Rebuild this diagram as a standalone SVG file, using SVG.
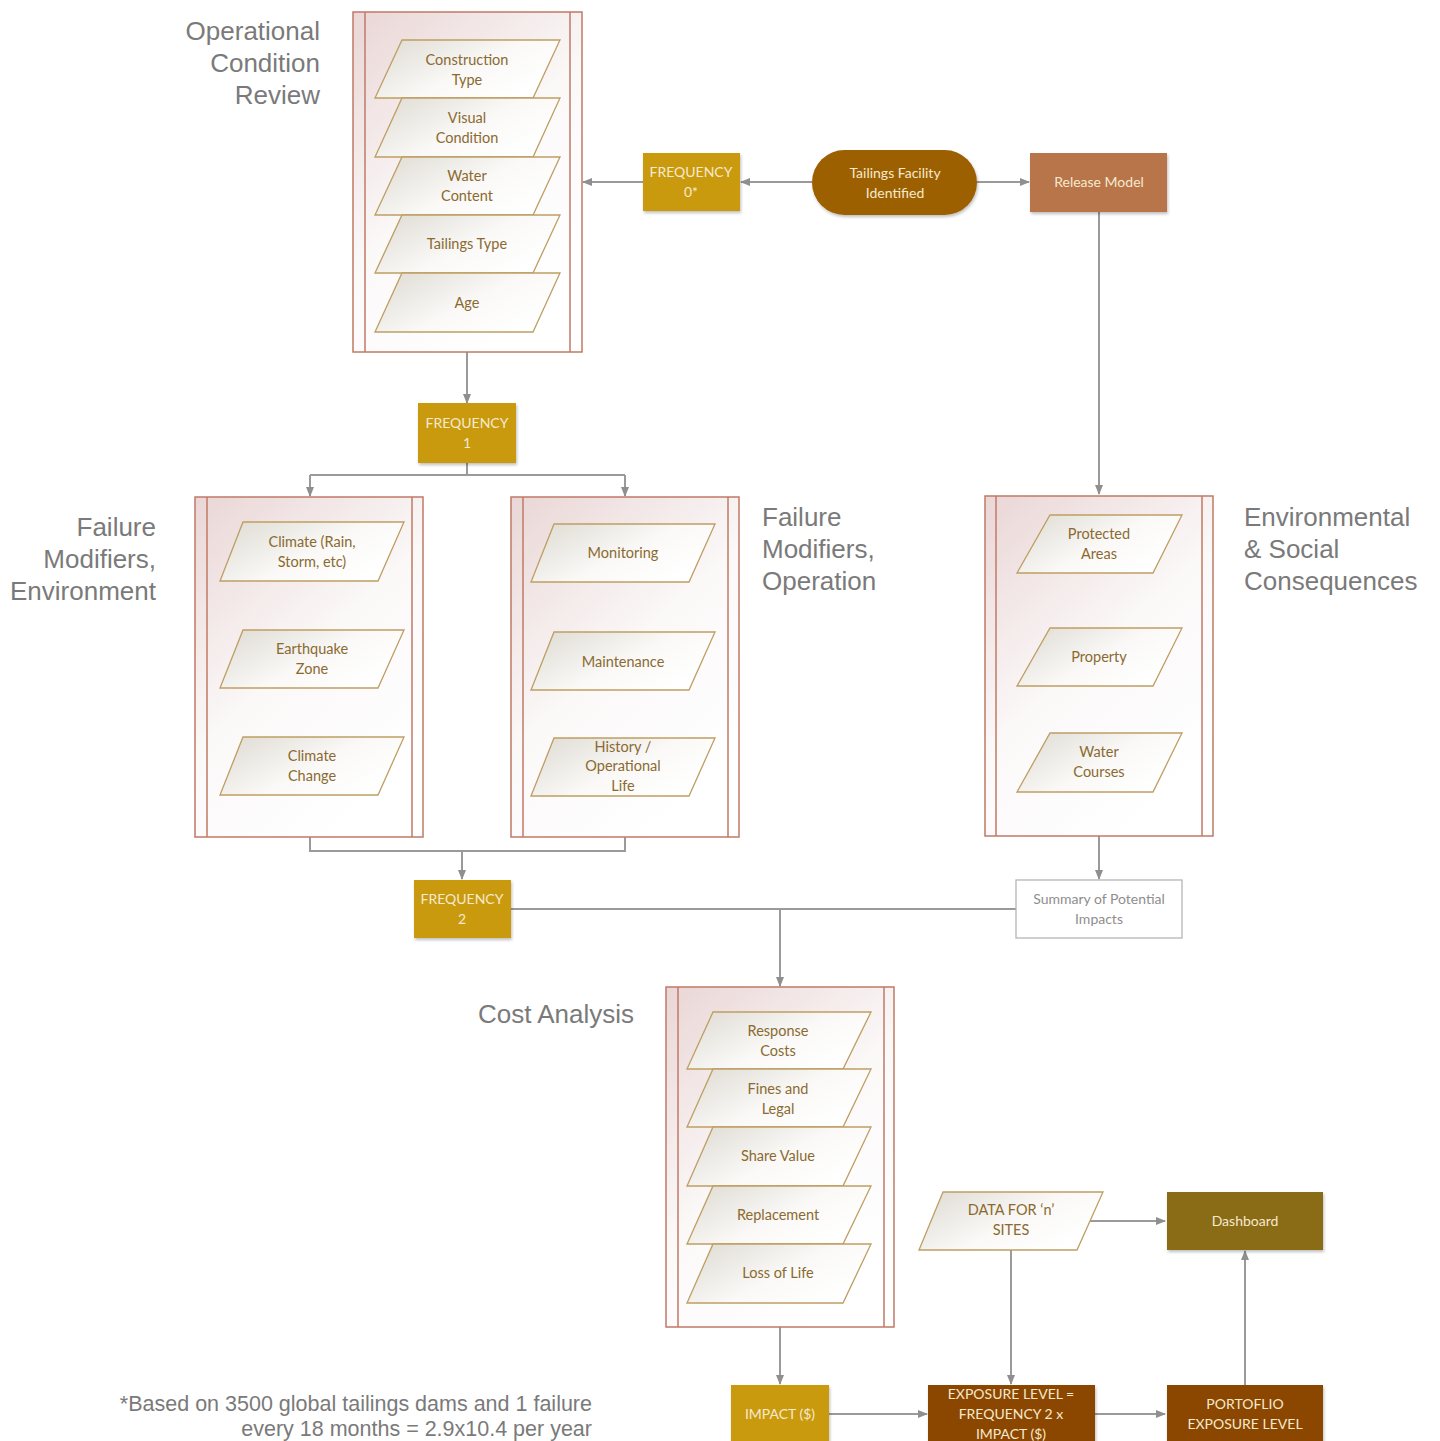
<svg xmlns="http://www.w3.org/2000/svg" width="1440" height="1441" viewBox="0 0 1440 1441">
<defs>
<linearGradient id="gCont" x1="0" y1="0" x2="0.6" y2="1">
<stop offset="0" stop-color="#EAD6D6"/>
<stop offset="0.55" stop-color="#FBF8F8"/>
<stop offset="1" stop-color="#FFFFFF"/>
</linearGradient>
<linearGradient id="gPar" x1="0" y1="0" x2="1" y2="0.6">
<stop offset="0" stop-color="#DEDAD2"/>
<stop offset="0.6" stop-color="#FAF9F7"/>
<stop offset="1" stop-color="#FFFFFF"/>
</linearGradient>
<marker id="arr" markerWidth="10" markerHeight="10" refX="9" refY="5" orient="auto" markerUnits="userSpaceOnUse">
<path d="M0,1 L10,5 L0,9 Z" fill="#8F8F8F"/>
</marker>
<filter id="sh" x="-10%" y="-10%" width="130%" height="140%">
<feDropShadow dx="1" dy="2" stdDeviation="1.5" flood-color="#000" flood-opacity="0.25"/>
</filter>
</defs>
<style>
.cont{fill:url(#gCont);stroke:#C07A66;stroke-width:1.5}
.inner{stroke:#C07A66;stroke-width:1.5}
.par{fill:url(#gPar);stroke:#BE9E62;stroke-width:1.3}
.pt{font-family:Lato,"Open Sans","Liberation Sans",sans-serif;font-size:14.5px;fill:#8A6A30;text-anchor:middle}
.bt{font-family:Lato,"Open Sans","Liberation Sans",sans-serif;font-size:14px;fill:#F6E9CE;text-anchor:middle}
.lab{font-family:"Liberation Sans",Arial,sans-serif;font-size:26px;fill:#7A7A7A}
.note{font-family:"Liberation Sans",Arial,sans-serif;font-size:21.5px;fill:#7A7A7A;text-anchor:end}
.con{fill:none;stroke:#9A9A9A;stroke-width:2}
.arr{marker-end:url(#arr)}
</style>
<rect width="1440" height="1441" fill="#FFFFFF"/>

<g id="labels">
<text class="lab" text-anchor="end" x="320" y="40">Operational</text>
<text class="lab" text-anchor="end" x="320" y="72">Condition</text>
<text class="lab" text-anchor="end" x="320" y="104">Review</text>
<text class="lab" text-anchor="end" x="156" y="536">Failure</text>
<text class="lab" text-anchor="end" x="156" y="568">Modifiers,</text>
<text class="lab" text-anchor="end" x="156" y="600">Environment</text>
<text class="lab" x="762" y="526">Failure</text>
<text class="lab" x="762" y="558">Modifiers,</text>
<text class="lab" x="762" y="590">Operation</text>
<text class="lab" x="1244" y="526">Environmental</text>
<text class="lab" x="1244" y="558">&amp; Social</text>
<text class="lab" x="1244" y="590">Consequences</text>
<text class="lab" x="478" y="1023">Cost Analysis</text>
<text class="note" x="592" y="1411">*Based on 3500 global tailings dams and 1 failure</text>
<text class="note" x="592" y="1436">every 18 months = 2.9x10.4 per year</text>
</g>

<g id="connectors">
<path class="con arr" d="M812,182 L741,182"/>
<path class="con arr" d="M643,182 L583,182"/>
<path class="con arr" d="M977,182 L1029,182"/>
<path class="con arr" d="M1099,212 L1099,494"/>
<path class="con arr" d="M467,352 L467,403"/>
<path class="con" d="M467,463 L467,475 M310,475 L625,475"/>
<path class="con arr" d="M310,475 L310,496"/>
<path class="con arr" d="M625,475 L625,496"/>
<path class="con" d="M310,837 L310,851 L625,851 L625,837"/>
<path class="con arr" d="M462,851 L462,879"/>
<path class="con arr" d="M1099,836 L1099,879"/>
<path class="con" d="M511,909 L1016,909"/>
<path class="con arr" d="M780,909 L780,986"/>
<path class="con arr" d="M780,1327 L780,1384"/>
<path class="con arr" d="M829,1414 L927,1414"/>
<path class="con arr" d="M1095,1414 L1165,1414"/>
<path class="con arr" d="M1245,1385 L1245,1251"/>
<path class="con arr" d="M1090,1221 L1165,1221"/>
<path class="con arr" d="M1011,1250 L1011,1384"/>
</g>

<g id="operational-condition-review">
<rect class="cont" x="353" y="12" width="229" height="340"/>
<line class="inner" x1="365" y1="12" x2="365" y2="352"/>
<line class="inner" x1="570" y1="12" x2="570" y2="352"/>
<g id="construction-type"><polygon class="par" points="402,40 560,40 533,98 375,98"/><text class="pt" x="467" y="65">Construction</text><text class="pt" x="467" y="85">Type</text></g>
<g id="visual-condition"><polygon class="par" points="402,98 560,98 533,157 375,157"/><text class="pt" x="467" y="123">Visual</text><text class="pt" x="467" y="143">Condition</text></g>
<g id="water-content"><polygon class="par" points="402,157 560,157 533,215 375,215"/><text class="pt" x="467" y="181">Water</text><text class="pt" x="467" y="201">Content</text></g>
<g id="tailings-type"><polygon class="par" points="402,215 560,215 533,273 375,273"/><text class="pt" x="467" y="249">Tailings Type</text></g>
<g id="age"><polygon class="par" points="402,273 560,273 533,332 375,332"/><text class="pt" x="467" y="308">Age</text></g>
</g>

<g id="frequency-0"><rect x="643" y="153" width="97" height="58" fill="#C99A0C" filter="url(#sh)"/><text class="bt" x="691" y="177">FREQUENCY</text><text class="bt" x="691" y="197">0*</text></g>
<g id="tailings-facility"><rect x="812" y="150" width="165" height="65" rx="32.5" fill="#9C6006" filter="url(#sh)"/><text class="bt" x="895" y="178">Tailings Facility</text><text class="bt" x="895" y="198">Identified</text></g>
<g id="release-model"><rect x="1030" y="153" width="137" height="59" fill="#B8744A" filter="url(#sh)"/><text class="bt" x="1099" y="187">Release Model</text></g>

<g id="frequency-1"><rect x="418" y="403" width="98" height="60" fill="#C99A0C" filter="url(#sh)"/><text class="bt" x="467" y="428">FREQUENCY</text><text class="bt" x="467" y="448">1</text></g>

<g id="failure-modifiers-environment">
<rect class="cont" x="195" y="497" width="228" height="340"/>
<line class="inner" x1="207" y1="497" x2="207" y2="837"/>
<line class="inner" x1="412" y1="497" x2="412" y2="837"/>
<g id="climate"><polygon class="par" points="243,522 404,522 378,581 220,581"/><text class="pt" x="312" y="547">Climate (Rain,</text><text class="pt" x="312" y="567">Storm, etc)</text></g>
<g id="earthquake"><polygon class="par" points="243,630 404,630 378,688 220,688"/><text class="pt" x="312" y="654">Earthquake</text><text class="pt" x="312" y="674">Zone</text></g>
<g id="climate-change"><polygon class="par" points="243,737 404,737 378,795 220,795"/><text class="pt" x="312" y="761">Climate</text><text class="pt" x="312" y="781">Change</text></g>
</g>

<g id="failure-modifiers-operation">
<rect class="cont" x="511" y="497" width="228" height="340"/>
<line class="inner" x1="523" y1="497" x2="523" y2="837"/>
<line class="inner" x1="728" y1="497" x2="728" y2="837"/>
<g id="monitoring"><polygon class="par" points="554,524 715,524 689,582 531,582"/><text class="pt" x="623" y="558">Monitoring</text></g>
<g id="maintenance"><polygon class="par" points="554,632 715,632 689,690 531,690"/><text class="pt" x="623" y="667">Maintenance</text></g>
<g id="history"><polygon class="par" points="554,738 715,738 689,796 531,796"/><text class="pt" x="623" y="752">History /</text><text class="pt" x="623" y="771">Operational</text><text class="pt" x="623" y="791">Life</text></g>
</g>

<g id="environmental-social">
<rect class="cont" x="985" y="496" width="228" height="340"/>
<line class="inner" x1="996" y1="496" x2="996" y2="836"/>
<line class="inner" x1="1202" y1="496" x2="1202" y2="836"/>
<g id="protected-areas"><polygon class="par" points="1050,515 1182,515 1153,573 1017,573"/><text class="pt" x="1099" y="539">Protected</text><text class="pt" x="1099" y="559">Areas</text></g>
<g id="property"><polygon class="par" points="1050,628 1182,628 1153,686 1017,686"/><text class="pt" x="1099" y="662">Property</text></g>
<g id="water-courses"><polygon class="par" points="1050,733 1182,733 1153,792 1017,792"/><text class="pt" x="1099" y="757">Water</text><text class="pt" x="1099" y="777">Courses</text></g>
</g>

<g id="frequency-2"><rect x="414" y="880" width="97" height="58" fill="#C99A0C" filter="url(#sh)"/><text class="bt" x="462" y="904">FREQUENCY</text><text class="bt" x="462" y="924">2</text></g>
<g id="summary-impacts"><rect x="1016" y="880" width="166" height="58" fill="#FFFFFF" stroke="#B5B5B5" stroke-width="1.3"/><text class="bt" x="1099" y="904" style="fill:#8E8E8E">Summary of Potential</text><text class="bt" x="1099" y="924" style="fill:#8E8E8E">Impacts</text></g>

<g id="cost-analysis">
<rect class="cont" x="666" y="987" width="228" height="340"/>
<line class="inner" x1="678" y1="987" x2="678" y2="1327"/>
<line class="inner" x1="884" y1="987" x2="884" y2="1327"/>
<g id="response-costs"><polygon class="par" points="713,1012 871,1012 843,1069 687,1069"/><text class="pt" x="778" y="1036">Response</text><text class="pt" x="778" y="1056">Costs</text></g>
<g id="fines-legal"><polygon class="par" points="713,1069 871,1069 843,1127 687,1127"/><text class="pt" x="778" y="1094">Fines and</text><text class="pt" x="778" y="1114">Legal</text></g>
<g id="share-value"><polygon class="par" points="713,1127 871,1127 843,1186 687,1186"/><text class="pt" x="778" y="1161">Share Value</text></g>
<g id="replacement"><polygon class="par" points="713,1186 871,1186 843,1244 687,1244"/><text class="pt" x="778" y="1220">Replacement</text></g>
<g id="loss-of-life"><polygon class="par" points="713,1244 871,1244 843,1303 687,1303"/><text class="pt" x="778" y="1278">Loss of Life</text></g>
</g>

<g id="data-n-sites"><polygon class="par" points="943,1192 1103,1192 1077,1250 919,1250"/><text class="pt" x="1011" y="1215">DATA FOR ‘n’</text><text class="pt" x="1011" y="1235">SITES</text></g>
<g id="dashboard"><rect x="1167" y="1192" width="156" height="58" fill="#8A6C16" filter="url(#sh)"/><text class="bt" x="1245" y="1226">Dashboard</text></g>
<g id="impact"><rect x="731" y="1385" width="98" height="60" fill="#C99A0C" filter="url(#sh)"/><text class="bt" x="780" y="1419">IMPACT ($)</text></g>
<g id="exposure-level"><rect x="928" y="1385" width="167" height="60" fill="#8B4706" filter="url(#sh)"/><text class="bt" x="1011" y="1399">EXPOSURE LEVEL =</text><text class="bt" x="1011" y="1419">FREQUENCY 2 x</text><text class="bt" x="1011" y="1439">IMPACT ($)</text></g>
<g id="portfolio-exposure"><rect x="1167" y="1385" width="156" height="60" fill="#8B4706" filter="url(#sh)"/><text class="bt" x="1245" y="1409">PORTOFLIO</text><text class="bt" x="1245" y="1429">EXPOSURE LEVEL</text></g>
</svg>
